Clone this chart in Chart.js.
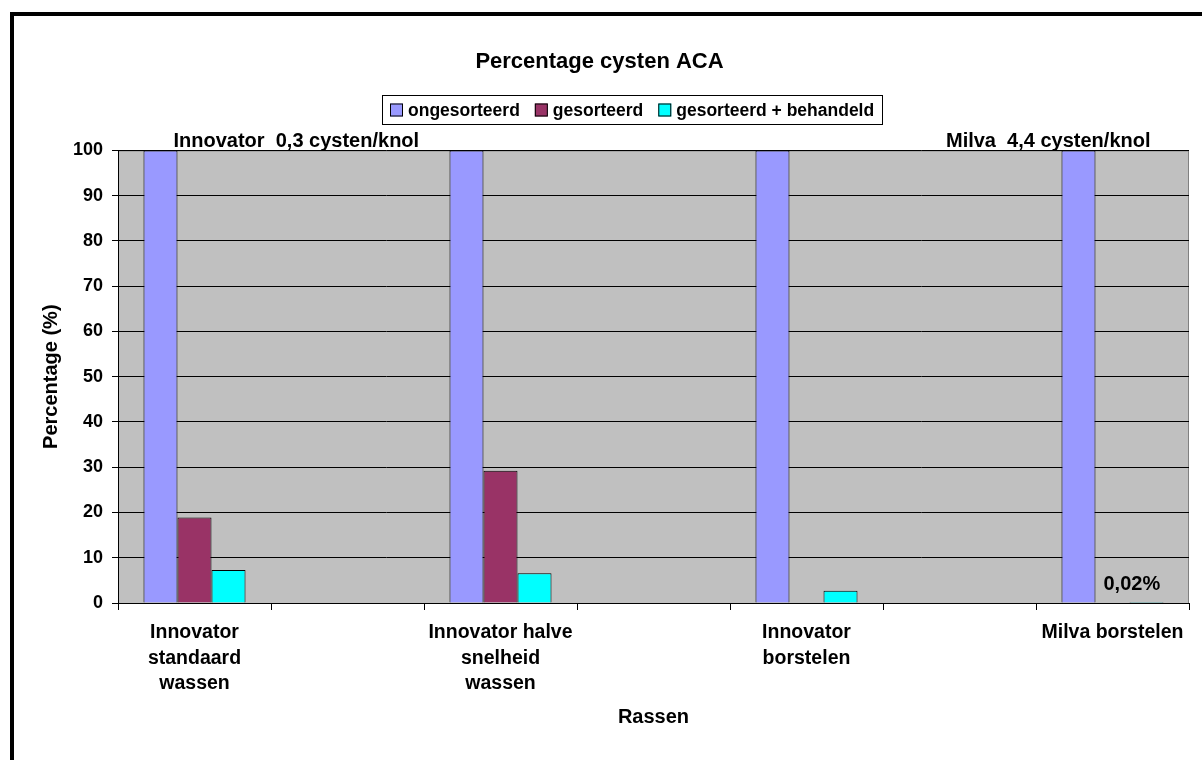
<!DOCTYPE html>
<html>
<head>
<meta charset="utf-8">
<script src="https://cdn.jsdelivr.net/npm/chart.js@4.4.1/dist/chart.umd.min.js"></script>
<style>
  html, body { margin: 0; padding: 0; background: #fff; overflow: hidden; }
  #frame { position: absolute; left: 10px; top: 12px; width: 1400px; height: 900px; border: 4px solid #000; }
  #wrap { position: absolute; left: 0; top: 0; width: 1202px; height: 760px; }
</style>
</head>
<body>
<div id="frame"></div>
<div id="wrap"><canvas id="chart" width="1202" height="760"></canvas></div>
<script>
// categories (empty ones sit between the groups, like the Excel original)
const categories = [
  ['Innovator', 'standaard', 'wassen'], '',
  ['Innovator halve', 'snelheid', 'wassen'], '',
  ['Innovator', 'borstelen'], '',
  'Milva borstelen'
];
const ongesorteerd = [100, null, 100, null, 100, null, 100];
const gesorteerd = [18.9, null, 29.2, null, 0, null, 0];
const behandeld = [7.3, null, 6.6, null, 2.7, null, 0.02];
const yTicks = [0, 10, 20, 30, 40, 50, 60, 70, 80, 90, 100];
const seriesNames = ['ongesorteerd', 'gesorteerd', 'gesorteerd + behandeld'];
const seriesColors = ['#9999FF', '#993366', '#00FFFF'];

const font = 'Liberation Sans, Arial, sans-serif';

const plotBg = {
  id: 'plotBg',
  beforeDraw(chart) {
    const { ctx, chartArea: a } = chart;
    ctx.save();
    ctx.fillStyle = '#C0C0C0';
    ctx.fillRect(a.left, a.top, a.right - a.left, a.bottom - a.top);
    ctx.strokeStyle = '#808080';
    ctx.lineWidth = 1;
    ctx.strokeRect(a.left + 0.5, a.top + 0.5, a.right - a.left - 1, a.bottom - a.top);
    ctx.restore();
  },
  afterDraw(chart) {
    // legend in a framed box, like Excel
    const ctx = chart.ctx;
    ctx.save();
    ctx.font = 'bold 17.5px ' + font;
    ctx.textBaseline = 'middle';
    ctx.textAlign = 'left';
    const left = 382, top = 95, h = 29, mid = 110;
    let x = left + 8;
    seriesNames.forEach((name, i) => {
      ctx.fillStyle = seriesColors[i];
      ctx.fillRect(x, mid - 6.5, 13, 13);
      ctx.strokeStyle = '#000';
      ctx.lineWidth = 1;
      ctx.strokeRect(x + 0.5, mid - 6, 12, 12);
      ctx.fillStyle = '#000';
      ctx.fillText(name, x + 18, mid + 1);
      x += 18 + ctx.measureText(name).width + 15;
    });
    x -= 15;
    ctx.strokeStyle = '#000';
    ctx.lineWidth = 1;
    ctx.strokeRect(left + 0.5, top + 0.5, Math.round(x + 8 - left), h);
    ctx.restore();
  }
};

const notes = {
  id: 'notes',
  afterDatasetsDraw(chart) {
    const { ctx, scales: { x, y } } = chart;
    ctx.save();
    ctx.fillStyle = '#000';
    ctx.font = 'bold 20px ' + font;
    ctx.textBaseline = 'alphabetic';
    ctx.textAlign = 'left';
    ctx.fillText('Innovator  0,3 cysten/knol', x.getPixelForValue(0) - 21, y.getPixelForValue(100) - 3);
    ctx.textAlign = 'right';
    ctx.fillText('Milva  4,4 cysten/knol', x.getPixelForValue(6) + 38, y.getPixelForValue(100) - 3);
    ctx.textAlign = 'left';
    ctx.textBaseline = 'middle';
    ctx.fillText('0,02%', x.getPixelForValue(6) - 9, y.getPixelForValue(4));
    ctx.restore();
  }
};

new Chart(document.getElementById('chart'), {
  type: 'bar',
  data: {
    labels: categories,
    datasets: [ongesorteerd, gesorteerd, behandeld].map((d, i) => ({
      label: seriesNames[i], data: d, backgroundColor: seriesColors[i],
      borderColor: '#000', borderWidth: 1, categoryPercentage: 0.667, barPercentage: 1.0
    }))
  },
  options: {
    responsive: false,
    animation: false,
    layout: { padding: { top: 12, left: 10, right: 13, bottom: 0 } },
    plugins: {
      title: {
        display: true,
        text: 'Percentage cysten ACA',
        color: '#000',
        font: { family: font, size: 22, weight: 'bold' },
        padding: { top: 37, bottom: 75 }
      },
      legend: { display: false },
      tooltip: { enabled: false }
    },
    scales: {
      x: {
        afterFit(s) { s.height = 157; },
        grid: { drawOnChartArea: false, offset: true, color: '#000', tickLength: 7, tickColor: '#000' },
        border: { color: '#000' },
        ticks: {
          color: '#000', maxRotation: 0, autoSkip: false, padding: 10,
          font: { family: font, size: 19.5, weight: 'bold', lineHeight: 1.31 }
        },
        title: {
          display: true, text: 'Rassen', color: '#000',
          font: { family: font, size: 20, weight: 'bold' },
          padding: { top: 0, bottom: 31 }
        }
      },
      y: {
        min: 0, max: 100,
        afterFit(s) { s.width = 108; },
        afterBuildTicks(s) { s.ticks = yTicks.map(v => ({ value: v })); },
        grid: { color: '#000', tickLength: 6, tickColor: '#000' },
        border: { color: '#000' },
        ticks: {
          color: '#000', padding: 9,
          font: { family: font, size: 18, weight: 'bold' }
        },
        title: {
          display: true, text: 'Percentage (%)', color: '#000',
          font: { family: font, size: 20, weight: 'bold' },
          padding: { top: 29, bottom: 0 }
        }
      }
    }
  },
  plugins: [plotBg, notes]
});
</script>
</body>
</html>
